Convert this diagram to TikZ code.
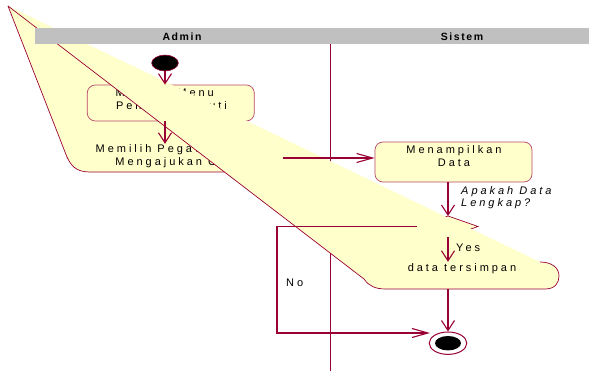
\documentclass[tikz,border=0pt]{standalone}
\usepackage{fontspec}
\setmainfont{Liberation Sans}
\newfontfamily\diafont{Liberation Sans}[LetterSpace=27]
\newfontfamily\hdrfont{Liberation Sans}[LetterSpace=15]
\usetikzlibrary{arrows.meta,shapes.geometric}

\definecolor{rose}{RGB}{153,0,51}
\definecolor{roseedge}{RGB}{185,70,105}
\definecolor{actfill}{RGB}{255,255,204}
\definecolor{hdrgray}{RGB}{192,192,192}

\tikzset{
  flow/.style={draw=rose, line width=1.1pt},
  vtip/.style={-{Straight Barb[length=10pt,width=13pt]}},
  htip/.style={-{Straight Barb[length=16pt,width=9pt]}},
  outline/.style={draw=rose, line width=0.7pt},
  actbox/.style={draw=roseedge, line width=0.7pt, fill=actfill, rounded corners=8pt, inner sep=0pt},
  ghost/.style={inner sep=0pt},
  lbl/.style={font=\diafont\fontsize{11}{13}\selectfont, text=black, align=center, inner sep=0pt},
  hdr/.style={font=\hdrfont\bfseries\fontsize{10.5}{12}\selectfont, text=black, inner sep=0pt},
  startnode/.style={ellipse, draw=rose, line width=0.6pt, fill=black, minimum width=26.6pt, minimum height=15.7pt, inner sep=0pt},
  endnode/.style={ellipse, draw=rose, line width=1pt, fill=white, minimum width=37.6pt, minimum height=22.4pt, inner sep=0pt},
}

\begin{document}
\begin{tikzpicture}[x=1pt,y=-1pt]
\useasboundingbox (0,0) rectangle (589,371);

% swimlane divider
\coordinate (lanetop) at (330.5,44.5);
\coordinate (lanebot) at (330.5,371);
\draw[rose, line width=1pt] (lanetop) -- (lanebot);

% common corner of the two stretched activity outlines
\coordinate (apex) at (8,6);

% "Memilih Pegawai" activity, stretched outline
\fill[actfill] (apex) -- (65,152) .. controls (70,166) and (76,172) .. (90,172) -- (283,172) -- (283,142) -- cycle;
\draw[outline] (apex) -- (65,152) .. controls (70,166) and (76,172) .. (90,172) -- (250,172);
\node[ghost, minimum width=211pt, minimum height=28pt] (pilih) at (177,158) {};
\node[lbl] (piliht) at (176,156.5) {Memilih Pegawai yang\\Mengajukan Cuti};

% menu activity
\node[actbox, minimum width=167pt, minimum height=36pt] (menu) at (170.8,103) {};
\node[lbl, anchor=base west] (menut1) at (115.5,96.5) {Memilih Menu};
\node[lbl, anchor=base] (menut2) at (171.5,109.5) {Pengajuan Cuti};

% decision
\coordinate (dtop) at (448,216);
\coordinate (dright) at (478,226.5);
\coordinate (dbot) at (448,237);
\coordinate (dleft) at (417,226.5);
\filldraw[outline, fill=actfill] (dtop) -- (dright) -- (dbot) -- (dleft) -- cycle;

% "data tersimpan" activity, stretched outline
\fill[actfill] (apex) -- (364,279) .. controls (369,286) and (375,289) .. (386,289) -- (545,289)
  .. controls (555,289) and (559,283) .. (559,276) .. controls (559,268) and (552,262) .. (540,262) -- cycle;
\draw[outline] (apex) -- (364,279) .. controls (369,286) and (375,289) .. (386,289) -- (545,289)
  .. controls (555,289) and (559,283) .. (559,276) .. controls (559,268) and (552,262) .. (540,262);
\node[ghost, minimum width=189pt, minimum height=27pt] (simpan) at (464.5,275.5) {};
\node[lbl] (simpant) at (462,269) {data tersimpan};

% lane headers
\fill[hdrgray] (35,28) rectangle (589,44.5);
\node[hdr] (admin) at (182,36.5) {Admin};
\node[hdr] (sistem) at (462,36.5) {Sistem};

% system activity
\node[actbox, minimum width=157pt, minimum height=40pt] (tampil) at (453.5,162) {};
\node[lbl] (tampilt) at (454,156) {Menampilkan\\Data};

% start and end
\node[startnode] (start) at (165,63) {};
\node[endnode] (final) at (448,343.2) {};
\fill[black] (final.center) ellipse [x radius=13pt, y radius=7.2pt];

% control flow
\draw[flow, vtip] (start) -- (start |- menu.north);
\draw[flow, vtip] (menu.south -| start) -- (pilih.north -| start);
\draw[flow, htip] (pilih.east) -- (pilih.east -| tampil.west);
\draw[flow, vtip] (tampil.south -| dtop) -- (dtop);
\draw[flow, vtip] (dbot) -- (dbot |- simpan.north);
\draw[flow, vtip] (dbot |- simpan.south) -- (final.north);
\coordinate (nobend) at (277,333);
\coordinate (noend) at (430,333);
\draw[flow, htip] (dleft) -- (dleft -| nobend) -- (nobend) -- (noend);

% guard labels
\node[lbl, font=\diafont\itshape\fontsize{11}{11.5}\selectfont, align=left, anchor=west] (ask) at (461,197.5) {Apakah Data\\Lengkap?};
\node[lbl, anchor=west] (yes) at (456,248) {Yes};
\node[lbl, anchor=west] (no) at (286,283) {No};
\end{tikzpicture}
\end{document}
